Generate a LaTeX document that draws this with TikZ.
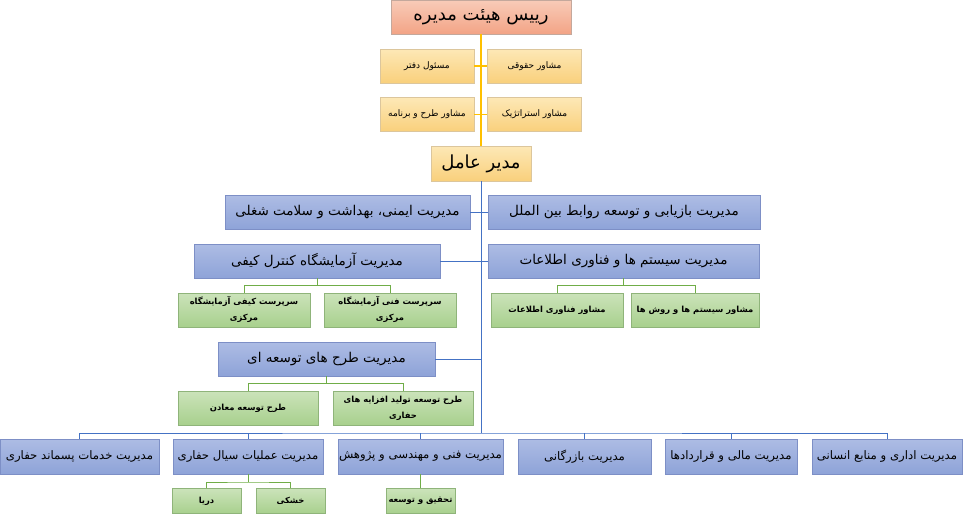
\documentclass[tikz,border=0pt]{standalone}
\usepackage{fontspec}
\usepackage{tikz}
\newfontfamily\fafont[Script=Arabic]{DejaVu Sans}
\TeXXeTstate=1
\newcommand{\fa}[1]{\beginR #1\endR}
\usetikzlibrary{positioning, calc}
\definecolor{chairTop}{HTML}{F8CBB8}
\definecolor{chairBot}{HTML}{F3A486}
\definecolor{chairLine}{HTML}{C4A89C}
\definecolor{yelTop}{HTML}{FDE8B6}
\definecolor{yelBot}{HTML}{F9D07C}
\definecolor{yelLine}{HTML}{DCC69C}
\definecolor{bluTop}{HTML}{ADBCE4}
\definecolor{bluBot}{HTML}{8EA3D8}
\definecolor{bluLine}{HTML}{7D8FC6}
\definecolor{grnTop}{HTML}{CBE3BA}
\definecolor{grnBot}{HTML}{A8D08D}
\definecolor{grnLine}{HTML}{8FB47A}
\definecolor{yelWire}{HTML}{FFC000}
\definecolor{bluWire}{HTML}{4472C4}
\definecolor{grnWire}{HTML}{70AD47}
\tikzstyle{YellowLink} = [draw=yelWire, line width=1.2pt]
\tikzstyle{BlueLink} = [draw=bluWire, line width=1pt]
\tikzstyle{GreenLink} = [draw=grnWire, line width=0.9pt]

\begin{document}
\begin{tikzpicture}[
			x = 1pt, y = -1pt,
			box/.style = {rectangle, inner sep = 0pt, text centered, minimum height = 34pt},
			chairbox/.style = {box, draw = chairLine, top color = chairTop, bottom color = chairBot, font = \fafont\fontsize{18}{21}\selectfont},
			advisor/.style = {box, draw = yelLine, top color = yelTop, bottom color = yelBot, font = \fafont\fontsize{9}{11}\selectfont},
			ceobox/.style = {box, draw = yelLine, top color = yelTop, bottom color = yelBot, minimum height = 35pt, font = \fafont\fontsize{18}{21}\selectfont},
			dept/.style = {box, draw = bluLine, top color = bluTop, bottom color = bluBot, font = \fafont\fontsize{13.5}{16}\selectfont},
			lowdept/.style = {dept, minimum height = 35pt, font = \fafont\fontsize{11.7}{14}\selectfont},
			unit/.style = {box, draw = grnLine, top color = grnTop, bottom color = grnBot, align = center, font = \fafont\bfseries\fontsize{8.4}{16}\selectfont},
		]
		\useasboundingbox (0,0) rectangle (963,514);

		% board and advisors
		\node[chairbox, minimum width = 180pt](chair) at (481,17){\fa{رییس هیئت مدیره}};
		\node[advisor, minimum width = 94pt](office) at (427,66){\fa{مسئول دفتر}};
		\node[advisor, minimum width = 94pt](legal) at (534.5,66){\fa{مشاور حقوقی}};
		\node[advisor, minimum width = 94pt](plan) at (427,114.5){\fa{مشاور طرح و برنامه}};
		\node[advisor, minimum width = 94pt](strategy) at (534.5,114.5){\fa{مشاور استراتژیک}};
		\node[ceobox, minimum width = 100pt](ceo) at (481,163.5){\fa{مدیر عامل}};

		% side departments
		\node[dept, minimum width = 272pt](intl) at (624,212.5){\fa{مدیریت بازیابی و توسعه روابط بین الملل}};
		\node[dept, minimum width = 245pt](hse) at (347.5,212.5){\fa{مدیریت ایمنی، بهداشت و سلامت شغلی}};
		\node[dept, minimum width = 246pt](lab) at (317,261){\fa{مدیریت آزمایشگاه کنترل کیفی}};
		\node[dept, minimum width = 271pt](it) at (623.5,261){\fa{مدیریت سیستم ها و فناوری اطلاعات}};
		\node[unit, minimum width = 132pt](labq) at (244,310){\fa{سرپرست کیفی آزمایشگاه}\\\fa{مرکزی}};
		\node[unit, minimum width = 132pt](labt) at (390,310){\fa{سرپرست فنی آزمایشگاه}\\\fa{مرکزی}};
		\node[unit, minimum width = 132pt](itc) at (557,310){\fa{مشاور فناوری اطلاعات}};
		\node[unit, minimum width = 128pt](sysc) at (695,310){\fa{مشاور سیستم ها و روش ها}};
		\node[dept, minimum width = 217pt](dev) at (326.5,359){\fa{مدیریت طرح های توسعه ای}};
		\node[unit, minimum width = 140pt](mine) at (248,408){\fa{طرح توسعه معادن}};
		\node[unit, minimum width = 140pt](additive) at (403,408){\fa{طرح توسعه تولید افزایه های}\\\fa{حفاری}};

		% bottom row
		\node[lowdept, minimum width = 159pt](waste) at (79.5,456.5){\fa{مدیریت خدمات پسماند حفاری}};
		\node[lowdept, minimum width = 150pt](fluid) at (248,456.5){\fa{مدیریت عملیات سیال حفاری}};
		\node[lowdept, minimum width = 165pt](eng) at (420.5,456.5){\fa{مدیریت فنی و مهندسی و پژوهش}};
		\node[lowdept, minimum width = 133pt](comm) at (584.5,456.5){\fa{مدیریت بازرگانی}};
		\node[lowdept, minimum width = 132pt](fin) at (731,456.5){\fa{مدیریت مالی و قراردادها}};
		\node[lowdept, minimum width = 150pt](hr) at (887,456.5){\fa{مدیریت اداری و منابع انسانی}};
		\node[unit, minimum width = 69pt, minimum height = 25pt](sea) at (206.5,501){\fa{دریا}};
		\node[unit, minimum width = 69pt, minimum height = 25pt](land) at (290.5,501){\fa{خشکی}};
		\node[unit, minimum width = 69pt, minimum height = 25pt](rnd) at (420.5,501){\fa{تحقیق و توسعه}};

		\coordinate(bus) at (481,433);
		\coordinate(labBar) at (317,285.5);
		\coordinate(itBar) at (623.5,285.5);
		\coordinate(devBar) at (326.5,383.5);
		\coordinate(fluidBar) at (248,482);

		% connectors
		\draw[YellowLink](chair)--(ceo);
		\draw[YellowLink](office)--(legal);
		\draw[YellowLink](plan)--(strategy);

		\draw[BlueLink](ceo.south)--(bus);
		\draw[BlueLink](hse)--(intl);
		\draw[BlueLink](lab)--(it);
		\draw[BlueLink](dev.east)--(dev.east -| bus);
		\draw[BlueLink](waste.north)|-(bus)-|(hr.north);
		\draw[BlueLink](fluid.north)--(fluid.north |- bus);
		\draw[BlueLink](eng.north)--(eng.north |- bus);
		\draw[BlueLink](comm.north)--(comm.north |- bus);
		\draw[BlueLink](fin.north)--(fin.north |- bus);

		\draw[GreenLink](lab.south)--(labBar);
		\draw[GreenLink](labq.north)|-(labBar)-|(labt.north);
		\draw[GreenLink](it.south)--(itBar);
		\draw[GreenLink](itc.north)|-(itBar)-|(sysc.north);
		\draw[GreenLink](dev.south)--(devBar);
		\draw[GreenLink](mine.north)|-(devBar)-|(additive.north);
		\draw[GreenLink](fluid.south)--(fluidBar);
		\draw[GreenLink](sea.north)|-(fluidBar)-|(land.north);
		\draw[GreenLink](eng)--(rnd);

	\end{tikzpicture}
\end{document}
